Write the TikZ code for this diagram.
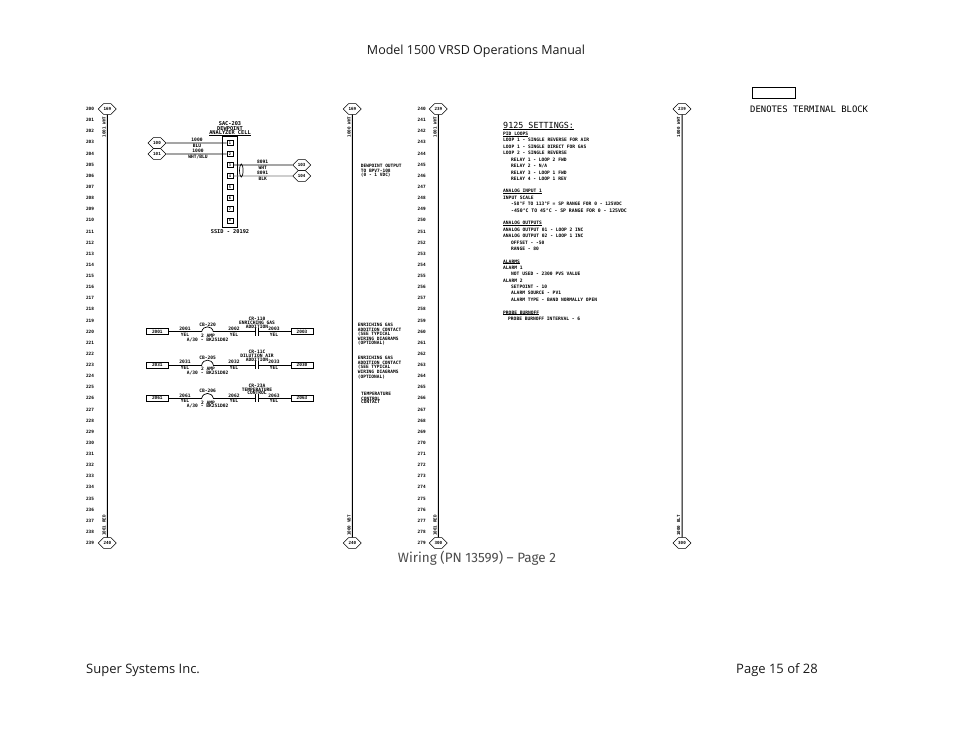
\documentclass[tikz,border=0pt]{standalone}
\usepackage{fontspec}
\usetikzlibrary{shapes.misc,shapes.geometric}
\setmainfont{Open Sans}
\setmonofont{DejaVu Sans Mono}
\newfontfamily\wirefont{Fira Sans}
\newcommand{\fsz}[1]{\fontsize{#1}{#1}\selectfont}
\newsavebox{\ulbox}
\newcommand{\ulin}[1]{\sbox{\ulbox}{#1}\rlap{\usebox{\ulbox}}\rule[-0.12em]{\wd\ulbox}{0.08em}}
\definecolor{wiringgray}{gray}{0.3}
\tikzset{
  x=1pt,y=-1pt,
  page/.style={inner sep=0pt,font=\fsz{13}\rmfamily,text=black!90},
  rail/.style={line width=1pt,black},
  wire/.style={line width=0.8pt,black},
  thinwire/.style={line width=0.8pt,black!55},
  hexterm/.style={draw,line width=0.6pt,chamfered rectangle,chamfered rectangle xsep=3pt,chamfered rectangle ysep=5pt,minimum width=18pt,minimum height=10pt,inner sep=0pt,font=\fsz{4.2}\ttfamily\bfseries},
  rownum/.style={inner sep=0pt,font=\fsz{4.4}\ttfamily\bfseries},
  raillab/.style={inner sep=0pt,rotate=90,font=\fsz{4.2}\ttfamily\bfseries},
  wirelab/.style={inner sep=0pt,align=center,font=\fsz{4.6}\ttfamily\bfseries},
  blocklab/.style={inner sep=0pt,align=center,font=\fsz{5.3}\ttfamily\bfseries},
  note/.style={inner sep=0pt,anchor=west,font=\fsz{4.6}\ttfamily\bfseries},
  termsq/.style={draw,line width=0.7pt,minimum width=6pt,minimum height=5pt,inner sep=0pt,font=\fsz{3.6}\ttfamily\bfseries},
  tbox/.style={draw,line width=0.8pt,minimum width=22pt,minimum height=6pt,inner sep=0pt,font=\fsz{4.4}\ttfamily\bfseries},
}
\begin{document}
\begin{tikzpicture}
\useasboundingbox (0,0) rectangle (954,738);
% page texts
\node[page,font=\fsz{12.5}\rmfamily] (title) at (476,51) {Model 1500 VRSD Operations Manual};
\node[page,anchor=west] (foot1) at (86,670) {Super Systems Inc.};
\node[page,anchor=east] (foot2) at (818,670) {Page 15 of 28};
\node[inner sep=0pt,font=\fsz{13.5}\wirefont,text=wiringgray] (wiring) at (477,558) {Wiring (PN 13599) – Page 2};
% legend
\node[draw,line width=0.8pt,minimum width=43.5pt,minimum height=11pt,inner sep=0pt] (legend) at (774,92.7) {};
\node[inner sep=0pt,anchor=west,font=\fsz{8.9}\ttfamily] (legendtxt) at (750,109.3) {DENOTES TERMINAL BLOCK};
% rails
\foreach \n/\x/\tl/\bl/\tta/\ttb in {1/107.3/169/240/1001 WHT/1001 RED,2/352.3/169/240/1000 WHT/1000 VBT,3/438.3/239/300/1001 WHT/1001 RED,4/682/239/300/1000 WHT/1000 BLT}{
  \node[hexterm] (top\n) at (\x,109) {\tl};
  \node[hexterm] (bot\n) at (\x,543) {\bl};
  \draw[rail] (top\n) -- (bot\n);
  \node[raillab] (tl\n) at (\x-3.3,127) {\tta};
  \node[raillab] (bl\n) at (\x-3.3,525.5) {\ttb};
}
% row numbers
\foreach \i in {0,...,39}{
  \pgfmathtruncatemacro{\ra}{200+\i}
  \pgfmathtruncatemacro{\rb}{240+\i}
  \node[rownum] (rowa\i) at (90,109+\i*11.128) {\ra};
  \node[rownum] (rowb\i) at (421.7,109+\i*11.128) {\rb};
}
% analyzer cell
\node[draw,line width=0.9pt,minimum width=15pt,minimum height=91pt,inner sep=0pt] (cell) at (229.8,181.8) {};
\foreach \i/\y in {1/143,2/154,3/165,4/176,5/187,6/198,7/209,8/220.5}{
  \node[termsq] (t\i) at (230,\y) {\i};
}
\node[blocklab] (ct1) at (230,123.3) {SAC-203};
\node[blocklab] (ct2) at (230,128.3) {DEWPOINT};
\node[blocklab] (ct3) at (230,133.3) {\ulin{ANALYZER CELL}};
\node[blocklab] (cellpn) at (230,231.5) {SSID - 20192};
\node[hexterm] (h100) at (157,143) {100};
\node[hexterm] (h101) at (157,154) {101};
\node[hexterm] (h103) at (301.7,165) {103};
\node[hexterm] (h104) at (301.7,176) {104};
\draw[wire] (h100) -- (t1);
\draw[wire] (h101) -- (t2);
\draw[wire] (t3) -- (h103);
\draw[thinwire] (t4) -- (h104);
\node[draw,line width=0.7pt,ellipse,minimum width=3.5pt,minimum height=13pt,inner sep=0pt] (shield) at (241.3,170.5) {};
\node[wirelab] (w1a) at (197,140.2) {1000};
\node[wirelab] (w1b) at (197,145.8) {BLU};
\node[wirelab] (w2a) at (198,151.2) {1000};
\node[wirelab] (w2b) at (198,156.8) {WHT/BLU};
\node[wirelab] (w3a) at (262.7,162.2) {8091};
\node[wirelab] (w3b) at (262.7,167.8) {WHT};
\node[wirelab] (w4a) at (262.7,173.2) {8091};
\node[wirelab] (w4b) at (262.7,178.8) {BLK};
% rungs
\foreach \n/\y/\la/\wa/\cbn/\wb/\wc/\rlab/\ca/\cd/\ce/\ck in {
  1/331.7/2001/2001/CB-220/2002/2003/2003/CR-110/ENRICHING GAS/ADDITION/BK251D02,
  2/365/2031/2031/CB-205/2032/2033/2030/CR-11C/DILUTION AIR/ADDITION/BK251D02,
  3/398.3/2061/2061/CB-206/2062/2063/2063/CR-23A/TEMPERATURE/CONTROL/BK251D02}{
  \node[tbox] (lb\n) at (157.3,\y) {\la};
  \node[tbox] (rr\n) at (302,\y) {\rlab};
  \coordinate (ba\n) at (201.7,\y);
  \coordinate (bb\n) at (213.3,\y);
  \coordinate (ca\n) at (255.7,\y);
  \coordinate (cc\n) at (258.7,\y);
  \draw[wire] (lb\n) -- (ba\n);
  \draw[line width=0.7pt] (ba\n) .. controls (203,\y-6.5) and (212,\y-6.5) .. (bb\n);
  \draw[wire] (bb\n) -- (ca\n);
  \draw[wire] (cc\n) -- (rr\n);
  \draw[line width=0.8pt] (255.7,\y-4) -- (255.7,\y+4);
  \draw[line width=0.8pt] (258.7,\y-4) -- (258.7,\y+4);
  \node[wirelab] (xa\n) at (185,\y-2.8) {\wa};
  \node[wirelab] (xb\n) at (185,\y+2.8) {YEL};
  \node[wirelab] (xc\n) at (234,\y-2.8) {\wb};
  \node[wirelab] (xd\n) at (234,\y+2.8) {YEL};
  \node[wirelab] (xe\n) at (274,\y-2.8) {\wc};
  \node[wirelab] (xf\n) at (274,\y+2.8) {YEL};
  \node[wirelab] (cb\n) at (207.7,\y-7) {\cbn};
  \node[wirelab] (amp\n) at (208,\y+4) {2 AMP};
  \node[wirelab] (pn\n) at (207.7,\y+8) {A/30 - \ck};
  \node[wirelab] (ct\n) at (257,\y-12.7) {\ca};
  \node[wirelab] (cu\n) at (257,\y-8.7) {\cd};
  \node[wirelab] (cv\n) at (257,\y-5) {\ce};
}
% notes beside second rail
\foreach \k/\x/\y/\txt in {
 d1/360.7/166/DEWPOINT OUTPUT,d2/360.7/171/TO BPV7-108,d3/360.7/175/(0 - 1 VDC),
 e1/357.7/325/ENRICHING GAS,e2/357.7/329.7/ADDITION CONTACT,e3/357.7/334/(SEE TYPICAL,e4/357.7/338.7/WIRING DIAGRAMS,e5/357.7/343.3/(OPTIONAL),
 f1/357.7/358.3/ENRICHING GAS,f2/357.7/363/ADDITION CONTACT,f3/357.7/367.3/(SEE TYPICAL,f4/357.7/372/WIRING DIAGRAMS,f5/357.7/376.7/(OPTIONAL),
 g1/361/394/TEMPERATURE,g2/361/399/CONTROL,g3/361/402/CONTACT}{
  \node[note,font=\fsz{4.5}\ttfamily\bfseries] (n\k) at (\x,\y) {\txt};
}
% settings
\node[inner sep=0pt,anchor=west,font=\fsz{8.4}\ttfamily] (settitle) at (503,126) {\ulin{9125 SETTINGS:}};
\foreach \k/\x/\y/\txt in {
 a/503/134/\ulin{PID LOOPS},
 b/503/140.3/LOOP 1 - SINGLE REVERSE FOR AIR,
 c/503/147/LOOP 1 - SINGLE DIRECT FOR GAS,
 d/503/153.3/LOOP 2 - SINGLE REVERSE,
 e/511/160/RELAY 1 - LOOP 2 FWD,
 f/511/166.3/{RELAY 2 - N/A},
 g/511/172.7/RELAY 3 - LOOP 1 FWD,
 h/511/179/RELAY 4 - LOOP 1 REV,
 i/503/191.3/\ulin{ANALOG INPUT 1},
 j/503/197.7/INPUT SCALE,
 k/511/204/-58°F TO 113°F = SP RANGE FOR 0 - 125VDC,
 l/511/210.7/{\fsz{4.8}-450°C TO 45°C - SP RANGE FOR 0 - 125VDC},
 m/503/223.3/\ulin{ANALOG OUTPUTS},
 n/503/229.7/ANALOG OUTPUT 01 - LOOP 2 INC,
 o/503/236.3/ANALOG OUTPUT 02 - LOOP 1 INC,
 p/511/242.7/OFFSET - -50,
 q/511/249/RANGE - 80,
 r/503/261.7/\ulin{ALARMS},
 s/503/268/ALARM 1,
 t/511/274.3/NOT USED - 2300 PVS VALUE,
 u/503/280.7/ALARM 2,
 v/511/287/SETPOINT - 10,
 w/511/293.3/ALARM SOURCE - PV1,
 x/511/299.7/ALARM TYPE - BAND NORMALLY OPEN,
 y/503/312.7/\ulin{PROBE BURNOFF},
 z/508/319/PROBE BURNOFF INTERVAL - 6}{
  \node[note] (s\k) at (\x,\y) {\txt};
}
\end{tikzpicture}
\end{document}
